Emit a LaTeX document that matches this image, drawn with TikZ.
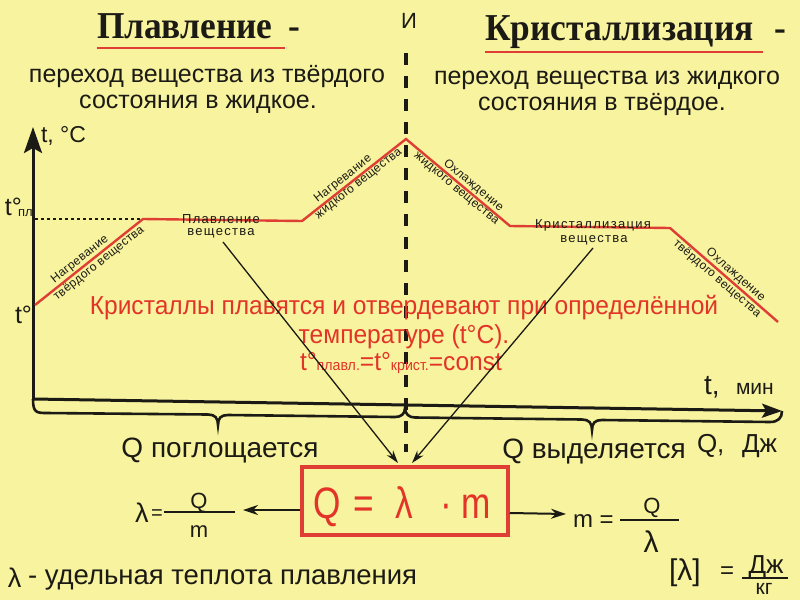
\documentclass[tikz,border=0pt]{standalone}
\usepackage{fontspec}
\setmainfont{Liberation Sans}
\newfontfamily\sansf{Liberation Sans}
\newfontfamily\seriff[FakeStretch=0.93]{Liberation Serif}
\newfontfamily\lblf[LetterSpace=10]{Liberation Sans}
\newfontfamily\slf[LetterSpace=3]{Liberation Sans}
\newfontfamily\redf[FakeStretch=0.945]{Liberation Sans}
\newfontfamily\boxf[FakeStretch=0.8]{Liberation Sans}
\usetikzlibrary{arrows.meta}
\newcommand\fsz[1]{\fontsize{#1}{#1}\selectfont}
\definecolor{bg}{RGB}{247,243,158}
\definecolor{ink}{RGB}{28,26,20}
\definecolor{redt}{RGB}{226,52,40}
\definecolor{redl}{RGB}{222,62,52}
\tikzset{
 tx/.style={inner sep=0pt, outer sep=0pt, anchor=base, text=ink},
 body/.style={tx, font=\sansf\fsz{25}},
 ttl/.style={tx, anchor=base west, font=\seriff\bfseries\fsz{38}},
 lbl/.style={inner sep=0.5pt, text=ink, font=\slf\fsz{12}},
 flat/.style={tx, font=\lblf\fsz{13}},
 redtxt/.style={tx, text=redt, font=\redf\fsz{26}},
 curve/.style={draw=redl, line width=2.4pt, line join=miter},
 axis/.style={draw=ink, line width=3pt},
 thinarr/.style={draw=ink, line width=1.3pt, -{Stealth[length=13pt,width=8pt]}},
 harr/.style={draw=ink, line width=2pt, -{Stealth[length=15pt,width=10pt]}},
}
\begin{document}
\begin{tikzpicture}[x=1pt,y=-1pt]
\fill[bg] (0,0) rectangle (800,600);
\useasboundingbox (0,0) rectangle (800,600);

% vertical dashed divider
\coordinate (dv1) at (406,53);
\coordinate (dv2) at (406,452);
\draw[ink, line width=3.5pt, dash pattern=on 12pt off 11pt] (dv1) -- (dv2);

% titles
\node[ttl] (tA) at (97,38) {Плавление};
\node[ttl] (tAd) at (288,38) {-};
\draw[redl, line width=2pt] (97,48) -- (285,48);
\node[ttl] (tB) at (485,40) {Кристаллизация};
\node[ttl] (tBd) at (774,40) {-};
\draw[redl, line width=2pt] (485,52) -- (763,52);
\node[tx, font=\sansf\fsz{22}] (andI) at (409,28) {И};

\node[body] (dA1) at (207,82) {переход вещества из твёрдого};
\node[body] (dA2) at (198,108) {состояния в жидкое.};
\node[body] (dB1) at (607,84) {переход вещества из жидкого};
\node[body] (dB2) at (602,110) {состояния в твёрдое.};

% axes
\coordinate (O) at (33,400);
\coordinate (Ye) at (33,127);
\coordinate (Xs) at (33,399);
\coordinate (Xe) at (782,411);
\draw[axis, -{Stealth[length=26pt,width=18pt,inset=5pt]}] (O) -- (Ye);
\draw[axis, -{Stealth[length=20pt,width=14pt,inset=4pt]}] (Xs) -- (Xe);
% brace under the axis
\draw[ink, line width=2.6pt]
 (33,399) .. controls (33,412) and (36,413) .. (46,413) -- (208,414.5)
 .. controls (215,414.5) and (218,418) .. (218,425)
 .. controls (218,418) and (221,415) .. (228,415) -- (395,417)
 .. controls (401,417) and (405,414) .. (405,408)
 .. controls (405,414) and (409,417.5) .. (415,417.5) -- (582,419.5)
 .. controls (589,419.5) and (592,423) .. (592,430)
 .. controls (592,423) and (595,420) .. (602,420) -- (770,422)
 .. controls (778,422) and (782,418) .. (782,411);

\node[tx, anchor=base west, font=\sansf\fsz{23}] (yl) at (41,142) {t, °C};
\node[tx, anchor=base west, font=\sansf\fsz{25}] (tpl) at (5,215) {t°};
\node[tx, anchor=base west, font=\sansf\fsz{13}] (tplsub) at (18,216) {пл};
\node[tx, anchor=base west, font=\sansf\fsz{25}] (t0) at (15,323) {t°};

% curve
\coordinate (A) at (35,305);
\coordinate (B) at (143,219);
\coordinate (C) at (302,221);
\coordinate (D) at (406,139);
\coordinate (E) at (510,226);
\coordinate (F) at (670,228);
\coordinate (G) at (778,322);
\coordinate (Dl) at (35,219);
\draw[ink, line width=1.5pt, dash pattern=on 3pt off 3pt] (Dl) -- (B);
\draw[curve] (A) -- (B) -- (C) -- (D) -- (E) -- (F) -- (G);

\path (A) -- (B) node[lbl, pos=0.46, sloped, above=1.5pt] (s1a) {Нагревание}
                 node[lbl, pos=0.55, sloped, below=1.5pt] (s1b) {твёрдого вещества};
\path (C) -- (D) node[lbl, pos=0.44, sloped, above=1.5pt] (s2a) {Нагревание}
                 node[lbl, pos=0.51, sloped, below=1.5pt] (s2b) {жидкого вещества};
\path (D) -- (E) node[lbl, pos=0.6, sloped, above=1.5pt] (s3a) {Охлаждение}
                 node[lbl, pos=0.52, sloped, below=1.5pt] (s3b) {жидкого вещества};
\path (F) -- (G) node[lbl, pos=0.56, sloped, above=1.5pt] (s4a) {Охлаждение}
                 node[lbl, pos=0.48, sloped, below=1.5pt] (s4b) {твёрдого вещества};

\node[flat] (pl1) at (221,223) {Плавление};
\node[flat] (pl2) at (221,235) {вещества};
\node[flat] (kr1) at (593,228) {Кристаллизация};
\node[flat] (kr2) at (594,242) {вещества};

% red statement
\node[redtxt] (r1) at (404,314) {Кристаллы плавятся и отвердевают при определённой};
\node[redtxt] (r2) at (404,343) {температуре (t°C).};
\node[redtxt] (r3) at (401,370) {t°{\fsz{15}плавл.}=t°{\fsz{15}крист.}=const};

% axis labels
\node[tx, anchor=base west, font=\sansf\fsz{28}] (tx1) at (704,394) {t,};
\node[tx, anchor=base west, font=\sansf\fsz{21}] (tx2) at (736,394) {мин};
\node[tx, anchor=base west, font=\sansf\fsz{26}] (qx1) at (697,452) {Q,};
\node[tx, anchor=base west, font=\sansf\fsz{26}] (qx2) at (742,452) {Дж};
\node[tx, font=\sansf\fsz{28}] (qa) at (220,457) {Q поглощается};
\node[tx, font=\sansf\fsz{28}] (qb) at (594,458) {Q выделяется};

% formula box
\node[draw=redl, line width=3.5pt, minimum width=206pt, minimum height=68pt, inner sep=0pt] (box) at (405,501) {};
\node[tx, anchor=base west, text=redt, font=\boxf\fsz{44}] (ftxt) at (313,518) {Q\hspace{13pt}=\hspace{22pt}λ\hspace{27pt}·\hspace{9pt}m};

% arrows from the plateau labels
\coordinate (a1s) at (223,242);
\coordinate (a1e) at (398,463);
\coordinate (a2s) at (593,248);
\coordinate (a2e) at (412,463);
\draw[thinarr] (a1s) -- (a1e);
\draw[thinarr] (a2s) -- (a2e);

% left formula
\coordinate (la) at (243,510);
\draw[harr] ([yshift=-9pt]box.west) -- (la);
\node[tx, anchor=base west, font=\sansf\fsz{27}] (lamA) at (135,522) {λ};
\node[tx, anchor=base west, font=\sansf\fsz{20}] (eqA) at (151,519) {=};
\draw[ink, line width=1.3pt] (164,512) -- (235,512);
\node[tx, font=\sansf\fsz{22}] (qA) at (199,508) {Q};
\node[tx, font=\sansf\fsz{22}] (mA) at (199,537) {m};

% right formula
\coordinate (ra) at (566,514);
\draw[harr] ([yshift=-12pt]box.east) -- (ra);
\node[tx, anchor=base west, font=\sansf\fsz{24}] (mB) at (573,527) {m =};
\draw[ink, line width=1.3pt] (620,520) -- (679,520);
\node[tx, font=\sansf\fsz{22}] (qB) at (652,513) {Q};
\node[tx, font=\sansf\fsz{30}] (lamB) at (651,552) {λ};

% definition
\node[tx, anchor=base west, font=\sansf\fsz{27}] (lamC) at (8,587) {λ};
\node[tx, anchor=base west, font=\sansf\fsz{27.5}] (defC) at (28,584) {- удельная теплота плавления};

% unit
\node[tx, anchor=base west, font=\sansf\fsz{30}] (unitA) at (669,580) {[λ]};
\node[tx, anchor=base west, font=\sansf\fsz{24}] (unitEq) at (720,578) {=};
\draw[ink, line width=1.3pt] (742,578) -- (788,578);
\node[tx, font=\sansf\fsz{26}] (unitN) at (766,573) {Дж};
\node[tx, font=\sansf\fsz{21}] (unitD) at (764,594) {кг};
\end{tikzpicture}
\end{document}
